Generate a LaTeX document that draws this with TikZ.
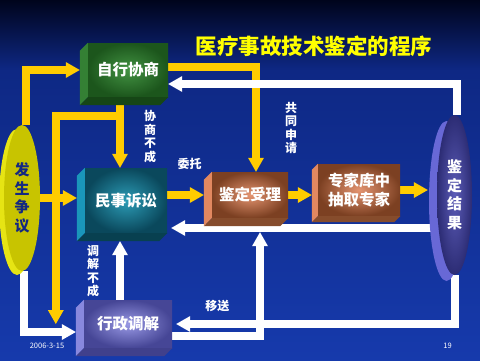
\documentclass[tikz,border=0pt]{standalone}
\usepackage{fontspec}
\setmainfont{Noto Sans CJK SC}
\usepackage{xcolor}
\usetikzlibrary{positioning, arrows.meta, calc, shapes.geometric}

\definecolor{bgtop}{RGB}{0,4,28}
\definecolor{bgmid}{RGB}{14,40,132}
\definecolor{bgbot}{RGB}{22,58,172}
\definecolor{arrowyellow}{RGB}{255,204,0}
\definecolor{titleyellow}{RGB}{255,255,0}
\definecolor{greenin}{RGB}{66,146,66}
\definecolor{greenout}{RGB}{28,86,28}
\definecolor{greenleft}{RGB}{52,128,52}
\definecolor{greenbase}{RGB}{22,70,22}
\definecolor{tealin}{RGB}{44,156,182}
\definecolor{tealout}{RGB}{10,72,92}
\definecolor{tealleft}{RGB}{26,150,186}
\definecolor{tealbase}{RGB}{8,64,80}
\definecolor{brownin}{RGB}{228,148,112}
\definecolor{brownout}{RGB}{124,64,34}
\definecolor{brownleft}{RGB}{226,136,96}
\definecolor{brownbase}{RGB}{134,76,44}
\definecolor{purplein}{RGB}{152,152,228}
\definecolor{purpleout}{RGB}{70,70,150}
\definecolor{purpleleft}{RGB}{136,136,222}
\definecolor{purplebase}{RGB}{64,64,140}
\definecolor{lensyellow}{RGB}{200,196,0}
\definecolor{lensyellowrim}{RGB}{230,228,20}
\definecolor{lensblue}{RGB}{44,44,116}
\definecolor{lensbluein}{RGB}{92,92,184}
\definecolor{lensbluerim}{RGB}{104,104,214}
\definecolor{disputetext}{RGB}{20,40,130}

\pgfdeclarelayer{back}
\pgfdeclarelayer{lines}
\pgfsetlayers{back,lines,main}

\begin{document}
\begin{tikzpicture}[
    x=1pt, y=-1pt,
    box/.style={rectangle, inner sep=1pt, align=center, text=white, font=\fontsize{15.5}{19}\selectfont\bfseries},
    lens/.style={ellipse, inner sep=0pt, align=center, font=\fontsize{15}{18.5}\selectfont\bfseries},
    yarrow/.style={draw=arrowyellow, line width=8pt, -{Triangle[width=16pt, length=14pt, line width=0pt]}},
    warrow/.style={draw=white, line width=8pt, -{Triangle[width=16pt, length=14pt, line width=0pt]}},
    note/.style={font=\fontsize{12}{13.5}\selectfont\bfseries, text=white, align=center, inner sep=1pt},
    heading/.style={font=\fontsize{21.5}{24}\selectfont\bfseries, text=titleyellow},
    foot/.style={font=\fontsize{7.5}{9}\selectfont, text=white, inner sep=0pt},
]
\useasboundingbox (0,0) rectangle (480,360);

% === BACKGROUND ===
\begin{pgfonlayer}{back}
\shade[top color=bgtop, bottom color=bgmid] (0,0) rectangle (480,70);
\shade[top color=bgmid, bottom color=bgbot] (0,70) rectangle (480,360);
\end{pgfonlayer}

% === TITLE ===
\node[heading] (title) at (314,46) {医疗事故技术鉴定的程序};

% === START / END ===
\node[lens, minimum width=36pt, minimum height=146pt, fill=lensyellow, text=disputetext,
      preaction={fill=lensyellowrim, transform canvas={shift={(-5,4)}}}] (dispute) at (22,198) {发\\生\\争\\议};
\node[lens, minimum width=35pt, minimum height=160pt, inner color=lensbluein, outer color=lensblue, text=white,
      preaction={fill=lensbluerim, transform canvas={shift={(-8,6)}}}] (result) at (454.5,195) {鉴\\定\\结\\果};

% === BOXES ===
\node[box, inner color=greenin, outer color=greenout, minimum width=80pt, minimum height=54pt] (negot) at (128,70) {自行协商};
\node[box, inner color=tealin, outer color=tealout, minimum width=82pt, minimum height=65pt] (civil) at (126,200.5) {民事诉讼};
\node[box, inner color=purplein, outer color=purpleout, minimum width=88pt, minimum height=48pt] (admin) at (128,324) {行政调解};
\node[box, inner color=brownin, outer color=brownout, minimum width=76pt, minimum height=46pt] (accept) at (250,195) {鉴定受理};
\node[box, inner color=brownin, outer color=brownout, minimum width=82pt, minimum height=52pt] (expert) at (359,190) {专家库中\\抽取专家};

% bevel faces (left and bottom)
\foreach \n/\side/\base/\d in {negot/greenleft/greenbase/8, civil/tealleft/tealbase/8, admin/purpleleft/purplebase/8, accept/brownleft/brownbase/8, expert/brownleft/brownbase/6} {
  \fill[\side] (\n.north west) -- ++(-\d,\d) -- ([shift={(-\d,\d)}]\n.south west) -- (\n.south west) -- cycle;
  \fill[\base] (\n.south west) -- ++(-\d,\d) -- ([shift={(-\d,\d)}]\n.south east) -- (\n.south east) -- cycle;
}

% === ARROWS ===
\begin{pgfonlayer}{lines}
% yellow: dispute to negotiation / litigation
\draw[yarrow, shorten >=8pt] ([xshift=4pt]dispute.north) |- (negot.west);
\draw[yarrow, shorten >=8pt] (dispute.east) -- (dispute.east -| civil.west);

% yellow: negotiation fails
\draw[yarrow] ([xshift=-8pt]negot.south) -- ([xshift=-6pt]civil.north) node[pos=0.56, right=19pt, note] {协\\商\\不\\成};
\draw[yarrow] ([xshift=-8pt]negot.south) ++(0,19) -| ([xshift=-28pt]admin.west);
\draw[yarrow] ([yshift=3pt]negot.east) -| ([xshift=6pt]accept.north) node[pos=0.79, right=24pt, note] {共\\同\\申\\请};

% yellow: main line to result
\draw[yarrow, shorten >=8pt] (civil.east |- accept.west) -- (accept.west) node[midway, above=20pt, note] {委托};
\draw[yarrow, shorten >=6pt] (accept.east) -- (accept.east -| expert.west);
\draw[yarrow, shorten >=9pt] (expert.east) -- (expert.east -| result.west);

% white: result back to each way
\draw[warrow] ([xshift=2pt]result.north) |- ([yshift=-14pt]negot.east);
\draw[warrow, shorten >=4pt] (result |- 0,228) -- (civil.east |- 0,228);
\draw[warrow, shorten >=4pt] (result.south) |- (admin.east) node[pos=0.92, above=7pt, note] {移送};

% white: administrative mediation
\draw[warrow, shorten >=14pt] ([yshift=-12pt]admin.east) -| ([xshift=10pt]accept.south);
\draw[warrow, shorten >=8pt] ([xshift=-8pt]admin.north) -- ([xshift=-6pt]civil.south) node[pos=0.43, left=16pt, note] {调\\解\\不\\成};
\draw[warrow, shorten >=8pt] ([xshift=2pt]dispute.south) |- ([yshift=-8pt]admin.west);
\end{pgfonlayer}

% === FOOTER ===
\node[foot] (date) at (47,346) {2006-3-15};
\node[foot] (page) at (447.5,346) {19};

\end{tikzpicture}
\end{document}
